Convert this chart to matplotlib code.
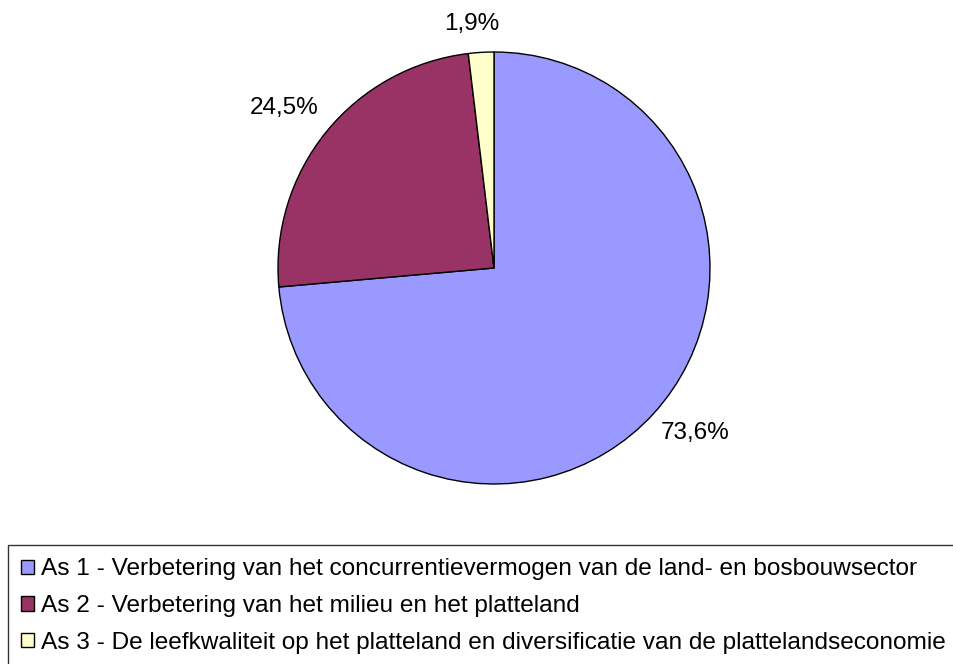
import matplotlib
matplotlib.use("Agg")
import numpy as np
import matplotlib.pyplot as plt
from matplotlib.patches import Patch

plt.rcParams['font.family'] = ['Liberation Sans', 'DejaVu Sans']

# data
labels = [
    "As 1 - Verbetering van het concurrentievermogen van de land- en bosbouwsector",
    "As 2 - Verbetering van het milieu en het platteland",
    "As 3 - De leefkwaliteit op het platteland en diversificatie van de plattelandseconomie",
]
shares = [73.6, 24.5, 1.9]
colors = ["#9999FF", "#993366", "#FFFFCC"]
# label placement (radius factor, angle shift in degrees)
label_dist = [1.205, 1.222, 1.135]
label_shift = [3.0, 1.8, 1.8]

W, H = 954, 664
fig = plt.figure(figsize=(W / 100, H / 100), dpi=100)

# pie centre and radius in pixels
cx, cy, r = 494, 268, 216
ax = fig.add_axes([(cx - r) / W, (H - cy - r) / H, 2 * r / W, 2 * r / H])

wedges, texts, autotexts = ax.pie(
    shares, colors=colors, startangle=90, counterclock=False,
    autopct=lambda p: f"{p:.1f}%".replace(".", ","), pctdistance=1.2,
    wedgeprops=dict(edgecolor="black", linewidth=1.0),
    textprops=dict(fontsize=17.5, color="black"),
)
for w, t, d, s in zip(wedges, autotexts, label_dist, label_shift):
    ang = np.deg2rad((w.theta1 + w.theta2) / 2 + s)
    t.set_position((d * np.cos(ang), d * np.sin(ang)))
    t.set_clip_on(False)
ax.set_xlim(-1, 1)
ax.set_ylim(-1, 1)
ax.set_aspect("equal")
ax.axis("off")

handles = [Patch(facecolor=c, edgecolor="black", linewidth=1.0) for c in colors]
leg = fig.legend(
    handles, labels, loc="upper left",
    bbox_to_anchor=(8 / W, 1 - 545 / H), bbox_transform=fig.transFigure,
    fontsize=17.6, frameon=True, fancybox=False, borderaxespad=0,
    handlelength=0.52, handleheight=0.52, handletextpad=0.3,
    borderpad=0.55, labelspacing=0.6,
)
leg.get_frame().set_edgecolor("black")
leg.get_frame().set_linewidth(1.0)

fig.savefig("out.png", dpi=100, facecolor="white")
